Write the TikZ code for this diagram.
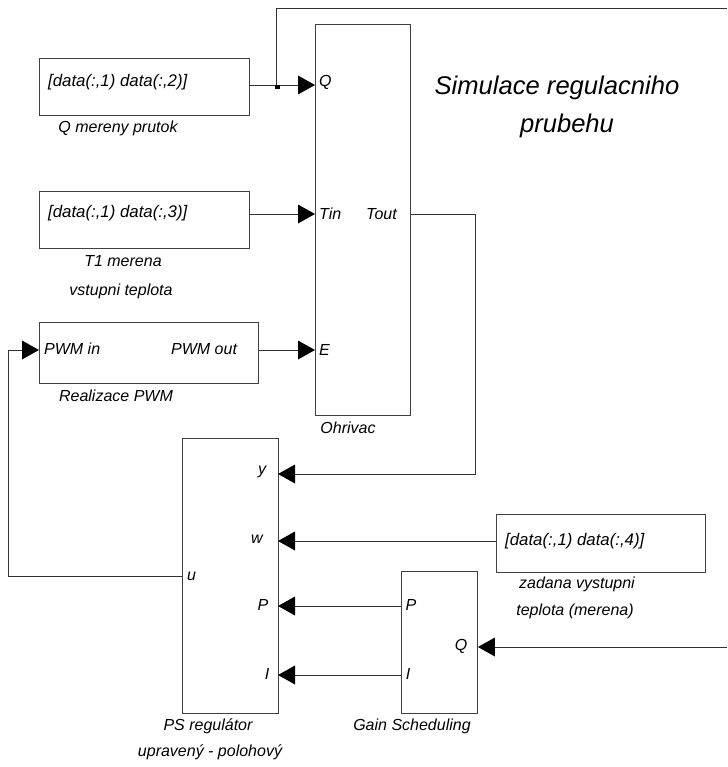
\documentclass[tikz,border=0pt]{standalone}
\usepackage{fontspec}
\setmainfont{Liberation Sans}
\usetikzlibrary{arrows.meta}
\begin{document}
\begin{tikzpicture}[x=1pt,y=-1pt,
 blk/.style={draw=black!75, line width=0.9pt, inner sep=0pt, anchor=north west},
 lbl/.style={font=\itshape\fontsize{16}{19}\selectfont, inner sep=0pt},
 dat/.style={font=\itshape\fontsize{16.8}{20}\selectfont, inner sep=0pt},
 ttl/.style={font=\itshape\fontsize{25.6}{30}\selectfont, inner sep=0pt},
 wire/.style={draw=black!80, line width=0.9pt},
 arr/.style={wire, -{Triangle[length=17pt,width=19pt,fill=black,line width=0pt]}}]
\useasboundingbox (0,0) rectangle (727,767);
% blocks
\node[blk, minimum width=210pt, minimum height=57pt] (src1) at (39,58) {};
\node[blk, minimum width=210pt, minimum height=57pt] (src2) at (39,191) {};
\node[blk, minimum width=219pt, minimum height=61pt] (pwm) at (39,322) {};
\node[blk, minimum width=95pt, minimum height=391pt] (ohr) at (315,24) {};
\node[blk, minimum width=96pt, minimum height=275pt] (ps) at (182,438) {};
\node[blk, minimum width=76pt, minimum height=142pt] (gs) at (401,571) {};
\node[blk, minimum width=209pt, minimum height=58pt] (src3) at (496,514) {};
% port coordinates
\coordinate (qin) at (315,85);
\coordinate (tin) at (315,214);
\coordinate (ein) at (315,350);
\coordinate (j) at (276,85);
\coordinate (topfree) at (727,8);
\coordinate (qfree) at (727,647);
\coordinate (yport) at (278,474);
\coordinate (wport) at (278,541);
\coordinate (pport) at (278,606);
\coordinate (iport) at (278,675);
\coordinate (uport) at (182,576);
\coordinate (tb) at (475,474);
\coordinate (lb) at (8,576);
\coordinate (lt) at (8,350);
\coordinate (pwmin) at (39,350);
% connectors
\draw[arr] (src1.east |- qin) -- (qin);
\fill[black] ([xshift=-1pt]j) rectangle ++(5,4);
\draw[wire] (j) |- (topfree);
\draw[arr] (src2.east |- tin) -- (tin);
\draw[arr] (pwm.east |- ein) -- (ein);
\draw[arr] (ohr.east |- tin) -| (tb) -- (yport);
\draw[arr] (src3.west |- wport) -- (wport);
\draw[arr] (gs.west |- pport) -- (pport);
\draw[arr] (gs.west |- iport) -- (iport);
\draw[arr] (qfree) -- (gs.east |- qfree);
\draw[arr] (uport) -- (lb) -- (lt) -- (pwmin);
% port labels
\node[lbl, anchor=west] (lq) at (319,82) {Q};
\node[lbl, anchor=west] (ltin) at (319,214) {Tin};
\node[lbl, anchor=west] (ltout) at (366,214) {Tout};
\node[lbl, anchor=west] (le) at (319,350) {E};
\node[dat, anchor=west] (ls1) at (48,82) {[data(:,1) data(:,2)]};
\node[dat, anchor=west] (ls2) at (48,213) {[data(:,1) data(:,3)]};
\node[dat, anchor=west] (ls3) at (505,541) {[data(:,1) data(:,4)]};
\node[lbl, anchor=west] (lpin) at (44,349) {PWM in};
\node[lbl, anchor=west] (lpout) at (171,349) {PWM out};
\node[lbl] (ly) at (262,472) {y};
\node[lbl] (lw) at (257,539) {w};
\node[lbl, anchor=west] (lu) at (187,576) {u};
\node[lbl] (lp) at (263,605) {P};
\node[lbl] (li) at (267,674) {I};
\node[lbl] (gp) at (411,605) {P};
\node[lbl] (gi) at (408,674) {I};
\node[lbl] (gq) at (461,646) {Q};
% block captions
\node[lbl] (c1) at (118,128) {Q mereny prutok};
\node[lbl] (c2a) at (123,261) {T1 merena};
\node[lbl] (c2b) at (121,291) {vstupni teplota};
\node[lbl] (c3) at (116,396) {Realizace PWM};
\node[lbl] (c4) at (348,428) {Ohrivac};
\node[lbl] (c5a) at (208,726) {PS regulátor};
\node[lbl] (c5b) at (210,752) {upravený - polohový};
\node[lbl] (c6) at (412,726) {Gain Scheduling};
\node[lbl] (c7a) at (577,584) {zadana vystupni};
\node[lbl] (c7b) at (575,611) {teplota (merena)};
\node[ttl] (t1) at (557,88) {Simulace regulacniho};
\node[ttl] (t2) at (567,126) {prubehu};
\end{tikzpicture}
\end{document}
